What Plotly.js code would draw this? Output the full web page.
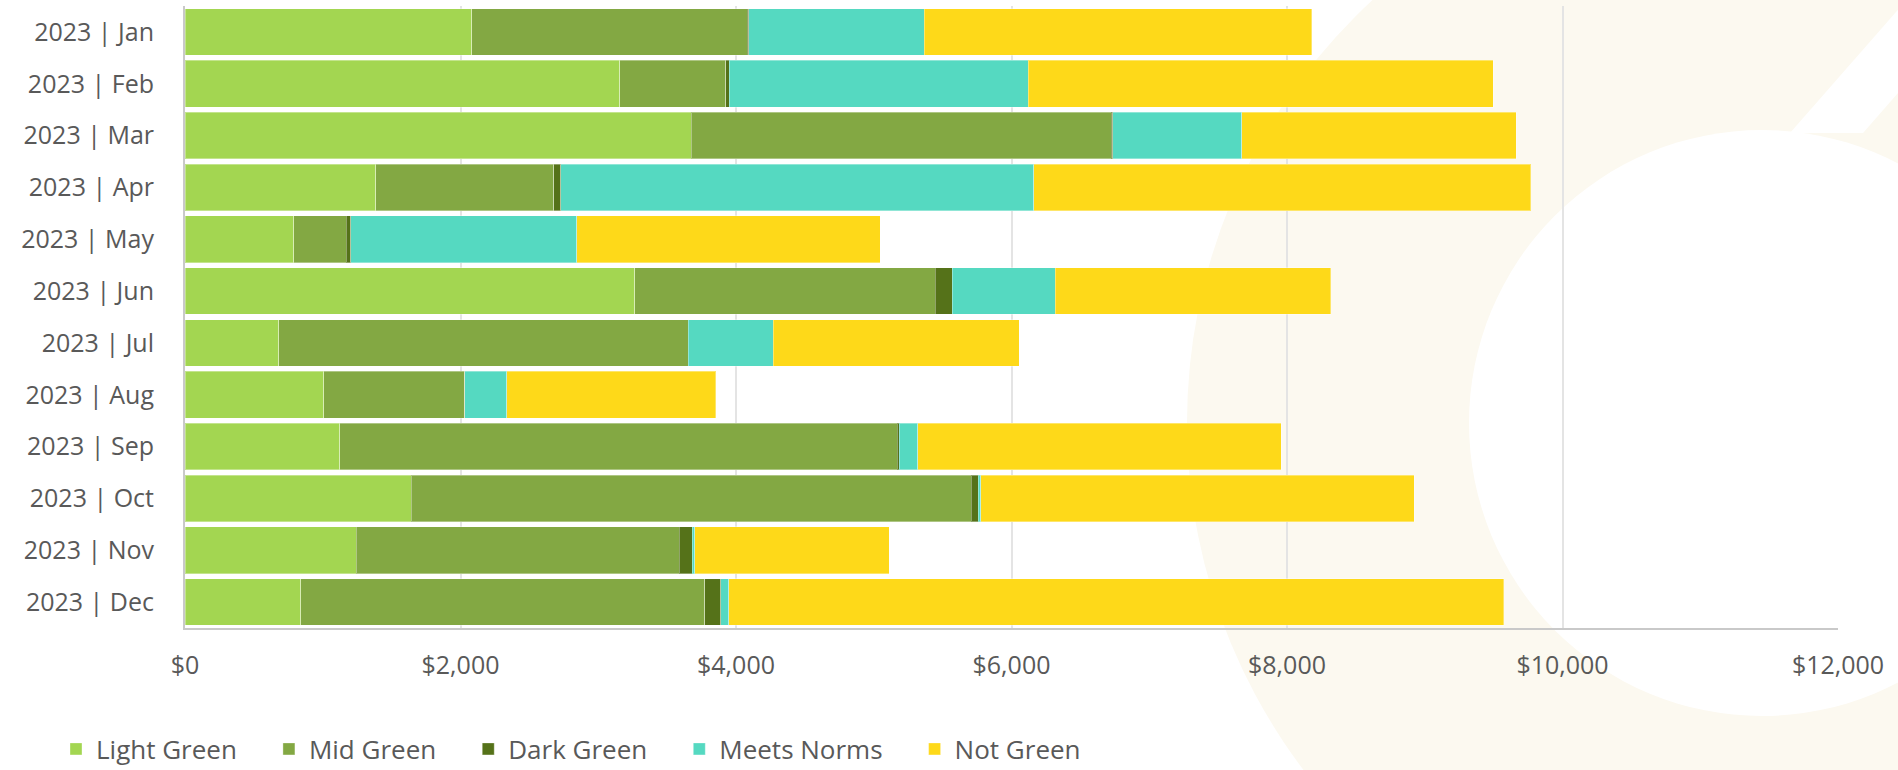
<!DOCTYPE html>
<html>
<head>
<meta charset="utf-8">
<script src="https://cdn.plot.ly/plotly-3.0.1.min.js"></script>
<style>
  html, body { margin: 0; padding: 0; background: #ffffff; }
  #chart { width: 1898px; height: 770px; }
</style>
</head>
<body>
<div id="chart"></div>
<script>
// ---- data ----
const months = ["2023 | Jan", "2023 | Feb", "2023 | Mar", "2023 | Apr", "2023 | May", "2023 | Jun",
                "2023 | Jul", "2023 | Aug", "2023 | Sep", "2023 | Oct", "2023 | Nov", "2023 | Dec"];
const lightGreen  = [2083, 3155, 3676, 1383,  790, 3265,  681, 1007, 1125, 1644, 1244,  841];
const midGreen    = [1997,  770, 3049, 1295,  380, 2180, 2972, 1025, 4045, 4062, 2344, 2933];
const darkGreen   = [  14,   27,   10,   50,   35,  125,    0,    0,   15,   51,   94,  116];
const meetsNorms  = [1271, 2168,  938, 3435, 1639,  746,  619,  305,  136,   20,   20,   56];
const notGreen    = [2813, 3376, 1993, 3606, 2204, 2000, 1784, 1517, 2636, 3145, 1409, 5629];

const seriesNames  = ["Light Green", "Mid Green", "Dark Green", "Meets Norms", "Not Green"];
const seriesValues = [lightGreen, midGreen, darkGreen, meetsNorms, notGreen];
const seriesColors = ["#a3d651", "#83a843", "#557219", "#55d9c1", "#fed919"];
const xTickValues  = [0, 2000, 4000, 6000, 8000, 10000, 12000];
const xTickLabels  = ["$0", "$2,000", "$4,000", "$6,000", "$8,000", "$10,000", "$12,000"];

// ---- geometry helpers for the faint background emblem (pixel -> paper) ----
const W = 1898, H = 770;
const M = { l: 185, r: 60, t: 6, b: 142, autoexpand: false };
const PW = W - M.l - M.r, PH = H - M.t - M.b;
const px = x => (x - M.l) / PW;
const py = y => (H - M.b - y) / PH;

const pad = '\u00a0'.repeat(4);
const traces = seriesNames.map((name, i) => ({
  type: 'bar',
  orientation: 'h',
  name: name + pad,
  y: months,
  x: seriesValues[i],
  marker: { color: seriesColors[i], line: { color: 'rgba(255,255,255,0.35)', width: 1 } },
  hovertemplate: '%{y}<br>' + name + ': $%{x:,}<extra></extra>'
}));

const font = { family: '"Open Sans", "Noto Sans", sans-serif', size: 25, color: '#595959' };
const legendFont = { family: '"Open Sans", "Noto Sans", sans-serif', size: 26, color: '#595959' };

const layout = {
  width: W, height: H,
  margin: M,
  barmode: 'stack',
  bargap: 0.1,
  paper_bgcolor: '#ffffff',
  plot_bgcolor: 'rgba(0,0,0,0)',
  font: font,
  showlegend: true,
  legend: {
    orientation: 'h',
    x: px(56), xanchor: 'left',
    y: py(749), yanchor: 'middle',
    font: legendFont,
    traceorder: 'normal',
    bgcolor: 'rgba(0,0,0,0)'
  },
  xaxis: {
    range: [0, 12000],
    tickmode: 'array',
    tickvals: xTickValues,
    ticktext: xTickLabels,
    showgrid: true,
    gridcolor: '#e4e4e4',
    gridwidth: 2,
    zeroline: false,
    showline: true,
    linecolor: '#c9c9c9',
    linewidth: 2,
    ticks: '',
    ticklabelstandoff: 14,
    tickfont: font,
    fixedrange: true
  },
  yaxis: {
    type: 'category',
    categoryorder: 'array',
    categoryarray: months,
    autorange: 'reversed',
    showgrid: false,
    zeroline: false,
    showline: true,
    linecolor: '#c9c9c9',
    linewidth: 2,
    ticks: '',
    ticklabelstandoff: 24,
    tickfont: font,
    fixedrange: true
  },
  shapes: [
    // outer disc of the faint emblem
    { type: 'circle', xref: 'paper', yref: 'paper', layer: 'below',
      x0: px(1762 - 575), x1: px(1762 + 575), y0: py(423 + 575), y1: py(423 - 575),
      fillcolor: '#fcf9f0', line: { width: 0 } },
    // inner white disc
    { type: 'circle', xref: 'paper', yref: 'paper', layer: 'below',
      x0: px(1762 - 293), x1: px(1762 + 293), y0: py(423 + 293), y1: py(423 - 293),
      fillcolor: '#ffffff', line: { width: 0 } },
    // diagonal white cut
    { type: 'path', xref: 'paper', yref: 'paper', layer: 'below',
      path: 'M' + px(1790) + ',' + py(133) + ' L' + px(2010) + ',' + py(-118) +
            ' L' + px(2083) + ',' + py(-118) + ' L' + px(1863) + ',' + py(133) + ' Z',
      fillcolor: '#ffffff', line: { width: 0 } }
  ]
};

Plotly.newPlot('chart', traces, layout, { displayModeBar: false });
</script>
</body>
</html>
